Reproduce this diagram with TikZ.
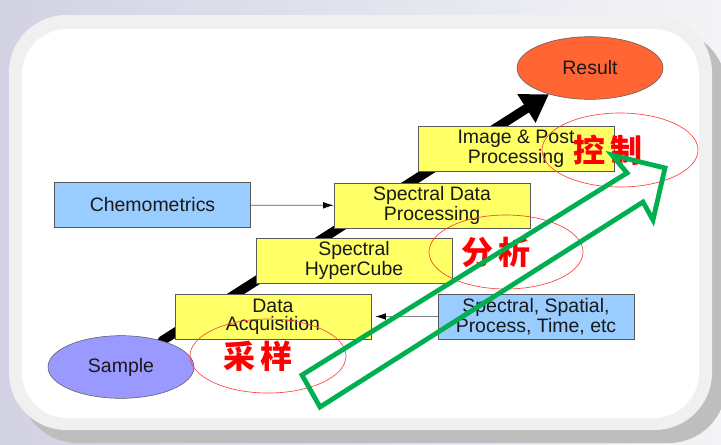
\documentclass[tikz,border=0pt]{standalone}
\usepackage{fontspec}
\setmainfont{Liberation Sans}
\newfontfamily\cjk{Noto Sans CJK SC}
\usetikzlibrary{arrows.meta,backgrounds,shapes.geometric}

\definecolor{boxyellow}{RGB}{255,255,102}
\definecolor{boxblue}{RGB}{153,204,255}
\definecolor{samplecol}{RGB}{153,153,255}
\definecolor{resultcol}{RGB}{255,102,51}
\definecolor{arrowgreen}{RGB}{0,176,80}
\definecolor{panelgray}{RGB}{240,240,240}
\definecolor{shadowgray}{RGB}{190,190,190}
\definecolor{framegray}{RGB}{90,90,90}

\tikzset{
  stepbox/.style={draw=framegray, fill=boxyellow, minimum width=147pt, minimum height=34pt,
    inner sep=0pt, align=center, text=black!90, font=\fontsize{14.6}{13.6}\selectfont},
  sidebox/.style={stepbox, fill=boxblue},
  endball/.style={ellipse, draw=framegray, minimum width=109.5pt, minimum height=47pt,
    inner sep=0pt, text=black!90, font=\fontsize{14.6}{13.6}\selectfont},
  hanzi/.style={text=red, inner sep=0pt, font=\cjk\bfseries\fontsize{24}{24}\selectfont},
  ring/.style={draw=red!75, line width=0.5pt}
}

\begin{document}
\begin{tikzpicture}[x=0.75pt,y=0.75pt,yscale=-1,xscale=1]
        \useasboundingbox (0,0) rectangle (721,444);
        \begin{scope}[on background layer]
        %Back
        \shade [left color={rgb,255:red,210;green,210;blue,228}, right color={rgb,255:red,244;green,244;blue,247}] (0,0) rectangle (721,444);
        %Rounded Rect (shadow, frame, panel)
        \fill [shadowgray, rounded corners=43pt] (20,30) rectangle (726,443);
        \fill [panelgray, rounded corners=43pt] (9,15) rectangle (712,430);
        \fill [white, rounded corners=34pt] (22,29) rectangle (699,418);
        \end{scope}

        % Text Node
        \draw (121,367) node (smp) [endball, fill=samplecol] {Sample};
        % Text Node
        \draw (590,68) node (res) [endball, fill=resultcol] {Result};
        % Text Node
        \draw (273,316.5) node (dacq) [stepbox] {Data\\Acquisition};
        % Text Node
        \draw (354,260.5) node (hyp) [stepbox] {Spectral\\HyperCube};
        % Text Node
        \draw (432,205.5) node (sdp) [stepbox] {Spectral Data\\Processing};
        % Text Node
        \draw (516,149) node (imgp) [stepbox] {Image \& Post\\Processing};
        % Text Node
        \draw (152.5,205) node (chem) [sidebox] {Chemometrics};
        % Text Node
        \draw (536,316.5) node (ssp) [sidebox] {Spectral, Spatial,\\Process, Time, etc};

        %Straight Lines
        \begin{scope}[on background layer]
        \draw [line width=7pt, line cap=round, -{Triangle[length=20pt,width=24pt]}] (smp) -- (res);
        \end{scope}
        %Straight Lines
        \draw [framegray, line width=0.6pt, -{Latex[black,length=8pt,width=5pt]}] (chem) -- (sdp);
        %Straight Lines
        \draw [gray, line width=0.6pt, -{Latex[black,length=8pt,width=5pt]}, shorten >=3pt] (ssp) -- (dacq);

        %Ellipse
        \draw [ring] (268,356) ellipse [x radius=78, y radius=37];
        \draw [ring] (506,252) ellipse [x radius=77, y radius=37];
        \draw [ring] (620,150) ellipse [x radius=78, y radius=37];
        % Text Node
        \draw (258,356) node (cy) [hanzi] {采\hspace{4pt}样};
        % Text Node
        \draw (496,252) node (fx) [hanzi] {分\hspace{4pt}析};
        % Text Node
        \draw (608,150) node (kz) [hanzi] {控\hspace{4pt}制};

        %Shape: Right Arrow
        \draw [arrowgreen, line width=3.6pt, line join=miter] (302,375) -- (627,173) -- (612,155) -- (665,168) -- (653,220) -- (643,202) -- (320,407) -- cycle;
\end{tikzpicture}
\end{document}
